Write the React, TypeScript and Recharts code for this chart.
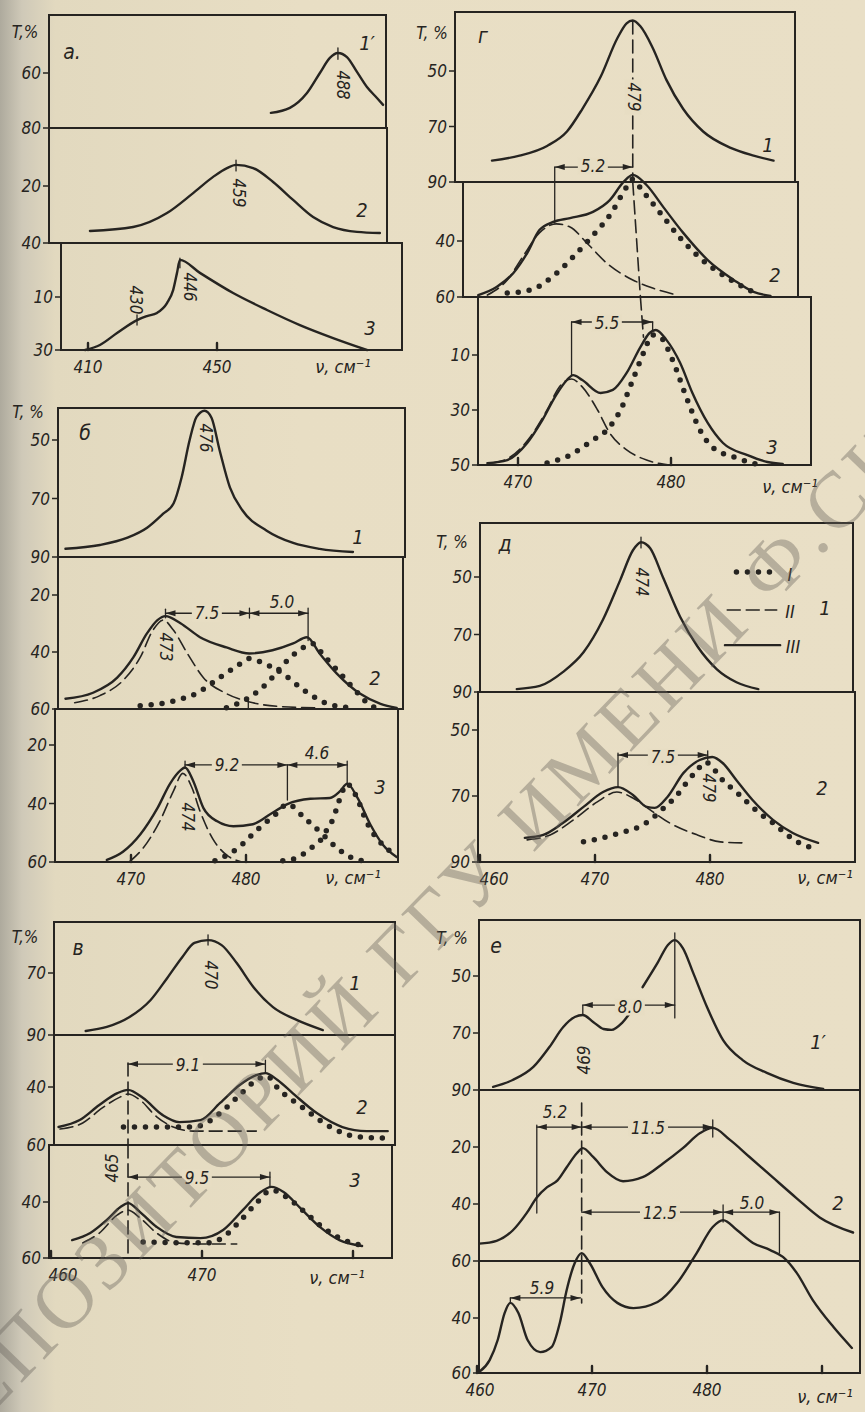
import {
    LineChart, Line, XAxis, YAxis, ReferenceArea, ReferenceLine, ReferenceDot,
} from 'recharts'

type P = [number, number]
type Kind = 'solid' | 'dash' | 'dot' | 'thin'

// ---- spectra: [ν, cm-1 ; T, %] ----

// а
const a1Solid: P[] = [[466.7, 74.5], [472.6, 72.7], [477.9, 67.3], [481.9, 60], [485.0, 54.5], [487.5, 52.7], [490.3, 54.2], [493.4, 59.6], [496.5, 65.1], [499.6, 69.1], [501.5, 71.6]]
const a2Solid: P[] = [[410.6, 35.8], [424.0, 34.4], [434.5, 29.5], [442.6, 22.5], [448.8, 16.8], [453.1, 13.7], [455.9, 12.6], [461.2, 13.7], [467.4, 18.6], [473.6, 24.9], [479.8, 30.9], [486.0, 34.4], [493.4, 36.1], [500.5, 36.5]]
const a3Solid: P[] = [[409.1, 30], [413.7, 28.1], [419.0, 23.6], [425.2, 18.7], [428.3, 17.2], [431.4, 16.0], [434.5, 12.3], [436.4, 7.4], [437.6, 0.9], [438.5, -4.0], [444.7, 0.9], [455.0, 8.5], [465.5, 14.9], [475.7, 20.6], [486.0, 25.5], [496.5, 30]]

// г
const g1Solid: P[] = [[468.3, 82.3], [470.1, 80.5], [471.9, 77.0], [473.2, 71.8], [474.2, 63.7], [475.4, 52.1], [476.5, 38.1], [477.1, 32.8], [477.5, 31.8], [478.0, 33.9], [478.8, 41.6], [479.7, 53.2], [480.8, 63.7], [482.1, 71.8], [483.9, 77.7], [485.4, 80.5], [486.7, 82.3]]
const g2Solid: P[] = [[467.4, 59.3], [468.6, 56.4], [469.7, 51.4], [470.6, 44.3], [471.4, 36.1], [472.3, 33.2], [473.4, 31.8], [474.9, 29.6], [476.0, 25.4], [476.9, 18.9], [477.5, 16.4], [478.4, 20.0], [479.5, 27.9], [480.8, 37.1], [482.4, 46.8], [484.1, 53.9], [485.4, 58.2], [486.5, 59.6]]
const g2Dash: P[] = [[468.0, 59.3], [469.3, 53.9], [470.3, 45.7], [471.4, 37.1], [472.5, 33.9], [473.4, 35.0], [474.5, 40.7], [475.8, 47.9], [477.5, 53.9], [478.8, 56.8], [480.4, 59.3]]
const g2Dot: P[] = [[469.3, 58.6], [470.8, 57.5], [472.4, 52.1], [473.6, 45.7], [474.8, 38.6], [476.1, 30.0], [477.1, 20.7], [477.5, 17.9], [478.1, 21.8], [479.3, 30.0], [480.6, 38.9], [481.9, 46.1], [483.7, 53.2], [485.5, 58.6]]
const g3Solid: P[] = [[468.0, 49.3], [469.3, 48.2], [470.6, 42.0], [471.6, 33.6], [472.5, 24.5], [473.2, 19.1], [473.6, 17.3], [474.2, 19.1], [475.4, 23.8], [476.2, 22.7], [477.1, 16.5], [478.0, 7.1], [478.6, 2.0], [479.0, 0.9], [479.7, 4.5], [480.6, 12.9], [481.4, 23.8], [482.4, 34.7], [483.4, 42.0], [485.0, 46.4], [486.3, 48.9], [487.3, 49.6]]
const g3Dash: P[] = [[468.3, 49.3], [469.5, 47.1], [470.8, 39.8], [471.9, 30.0], [472.7, 21.6], [473.5, 18.7], [474.2, 21.6], [475.2, 30.0], [476.0, 38.4], [477.1, 44.5], [478.4, 48.2], [479.9, 50]]
const g3Dot: P[] = [[471.9, 49.3], [473.4, 46.4], [474.9, 40.9], [475.8, 37.3], [476.7, 30.0], [477.5, 19.1], [478.2, 9.3], [478.8, 2.7], [479.3, 3.5], [480.1, 11.8], [481.0, 25.3], [481.9, 37.3], [482.7, 43.5], [484.1, 47.1], [485.8, 50]]

// б
const b1Solid: P[] = [[464.3, 87.2], [467.3, 85.9], [469.7, 83.4], [471.4, 80.0], [472.8, 75.2], [473.7, 71.7], [474.4, 62.8], [475.1, 50], [475.7, 42.1], [476.4, 40.0], [477.0, 42.4], [477.7, 53.4], [478.6, 66.2], [479.7, 74.1], [481.8, 81.0], [484.1, 85.2], [486.4, 87.2], [489.3, 88.3]]
const b2Solid: P[] = [[464.3, 56.4], [466.7, 54.3], [468.8, 49.0], [470.2, 41.9], [471.4, 33.4], [472.3, 28.8], [473.0, 27.4], [474.3, 29.9], [476.0, 34.8], [478.3, 38.4], [480.3, 40.5], [482.3, 39.4], [484.1, 37.0], [485.3, 34.8], [486.4, 40.5], [487.9, 47.6], [489.9, 54.6], [491.7, 58.2], [493.1, 59.6]]
const b2Dash: P[] = [[465.1, 57.8], [467.3, 55.3], [469.3, 50.0], [470.8, 41.9], [471.9, 32.4], [472.8, 28.8], [473.7, 32.4], [474.9, 40.5], [476.3, 49.0], [478.3, 54.6], [480.6, 57.8], [483.2, 59.2], [486.4, 59.6]]
const b2DotA: P[] = [[470.8, 58.9], [473.8, 57.1], [475.8, 54.3], [477.6, 49.3], [479.3, 44.7], [480.3, 42.3], [481.4, 43.7], [483.2, 47.6], [485.1, 53.6], [487.1, 58.2], [489.2, 59.6]]
const b2DotB: P[] = [[478.3, 59.6], [480.1, 56.4], [481.8, 51.1], [483.4, 43.7], [485.0, 38.4], [485.7, 37.0], [486.9, 41.9], [488.2, 47.6], [489.7, 54.3], [491.0, 59.2], [491.9, 59.8]]
const b3Solid: P[] = [[467.9, 59.3], [469.3, 56.5], [470.8, 50.6], [472.3, 41.6], [473.4, 33.2], [474.3, 28.7], [474.7, 27.7], [475.4, 32.2], [476.3, 41.6], [477.5, 46.1], [478.9, 47.8], [480.6, 47.1], [482.1, 43.7], [483.6, 40.2], [485.6, 38.4], [487.3, 38.1], [488.2, 35.7], [488.8, 33.2], [489.7, 38.1], [490.8, 47.1], [491.9, 54.1], [493.1, 58.3]]
const b3Dash: P[] = [[469.9, 59.8], [471.0, 55.5], [472.5, 46.1], [473.7, 35.7], [474.5, 29.7], [475.3, 34.6], [476.0, 42.6], [477.1, 52.0], [478.3, 57.6], [479.5, 59.8]]
const b3DotC: P[] = [[477.3, 59.6], [479.2, 55.5], [481.0, 48.9], [482.7, 43.3], [483.6, 40.2], [485.1, 45.0], [486.6, 50.3], [488.0, 55.5], [489.7, 59.3], [490.3, 59.6]]
const b3DotD: P[] = [[483.2, 59.6], [484.1, 59.0], [485.0, 57.2], [485.8, 54.8], [486.6, 52.0], [487.1, 48.5], [487.6, 45.0], [488.0, 40.2], [488.4, 35.7], [488.8, 33.2], [489.2, 35.0], [489.7, 38.4], [490.1, 42.6], [490.6, 47.1], [491.4, 52.0], [492.3, 55.5], [493.0, 58.3]]

// д
const d1Solid: P[] = [[463.2, 89.0], [465.2, 87.9], [467.2, 83.1], [469.0, 76.2], [470.7, 64.8], [472.2, 51.0], [473.3, 40.7], [474.0, 37.9], [474.8, 40.0], [475.9, 50], [477.4, 63.8], [478.9, 74.1], [480.6, 82.1], [482.3, 86.6], [484.2, 89.0]]
const d2Solid: P[] = [[463.9, 82.7], [465.5, 81.8], [467.2, 78.2], [469.0, 73.3], [470.7, 68.8], [472.0, 67.3], [473.3, 69.7], [474.5, 73.3], [475.2, 73.6], [476.3, 70.3], [477.7, 63.0], [479.1, 59.1], [480.2, 58.2], [481.1, 60.0], [482.3, 65.2], [483.7, 71.2], [485.5, 77.3], [487.2, 81.2], [489.4, 84.2]]
const d2Dash: P[] = [[464.1, 83.3], [466.1, 81.8], [468.1, 77.3], [470.2, 71.8], [471.9, 68.8], [473.3, 70.6], [474.8, 74.2], [476.5, 78.2], [478.9, 81.8], [480.9, 83.9], [482.8, 84.2]]
const d2Dot: P[] = [[469.0, 83.9], [470.3, 83.0], [471.6, 81.8], [472.8, 80.6], [473.8, 79.4], [474.8, 77.3], [475.8, 74.2], [477.0, 70.3], [478.0, 65.8], [478.9, 62.1], [479.6, 59.7], [480.4, 62.1], [481.1, 65.2], [482.3, 68.8], [483.3, 72.1], [484.3, 75.2], [485.5, 78.2], [486.5, 81.2], [487.6, 83.9], [488.7, 85.5]]

// в
const v1Solid: P[] = [[462.3, 88.7], [463.7, 87.4], [465.2, 84.2], [466.6, 78.7], [467.7, 71.6], [468.7, 64.8], [469.5, 60.3], [470.4, 59.4], [471.3, 61.0], [472.3, 66.8], [473.4, 74.5], [474.7, 81.0], [476.3, 85.2], [478.0, 88.4]]
const v2Solid: P[] = [[460.5, 53.8], [461.9, 51.4], [463.2, 46.2], [464.4, 42.1], [465.1, 41.0], [466.1, 43.8], [467.4, 49.7], [468.5, 52.1], [469.9, 51.4], [471.2, 45.5], [472.5, 39.3], [473.6, 35.9], [474.2, 35.2], [475.0, 37.6], [476.0, 42.1], [477.6, 49.0], [479.3, 53.8], [480.9, 55.2], [482.3, 55.2]]
const v2Dash: P[] = [[460.6, 54.5], [462.1, 52.4], [463.4, 47.2], [464.6, 43.4], [465.1, 42.4], [465.9, 44.5], [467.0, 50.3], [468.1, 53.8], [469.4, 55.2], [472.1, 55.2], [473.6, 55.2]]
const v2Dot: P[] = [[464.8, 53.8], [469.4, 53.8], [470.3, 52.4], [471.2, 49.0], [472.7, 41.7], [473.6, 37.6], [474.3, 36.2], [475.0, 40.3], [476.7, 47.2], [478.5, 53.8], [480.3, 57.2], [482.1, 57.6]]
const v3Solid: P[] = [[461.4, 53.6], [462.6, 51.1], [463.7, 46.4], [464.6, 41.8], [465.1, 40.4], [465.9, 43.6], [467.0, 48.9], [468.3, 52.5], [469.9, 52.9], [471.4, 50.0], [472.7, 42.9], [473.8, 36.8], [474.6, 34.6], [475.4, 36.4], [476.5, 42.1], [477.8, 48.9], [479.1, 53.6], [480.6, 55.7]]
const v3Dash: P[] = [[462.1, 54.6], [463.2, 51.1], [464.4, 44.6], [465.1, 42.9], [465.9, 45.7], [467.0, 51.1], [468.3, 54.6], [469.9, 55.0], [472.3, 55.0]]
const v3Dot: P[] = [[466.1, 54.3], [470.4, 54.6], [471.3, 52.9], [472.4, 47.5], [473.6, 40.4], [474.6, 35.7], [475.7, 38.6], [476.8, 43.6], [477.8, 48.2], [479.1, 52.9], [480.5, 55.4]]

// е
const e1SolidA: P[] = [[461.4, 88.9], [463.1, 86.5], [464.9, 81.9], [466.3, 74.9], [467.5, 67.9], [468.5, 64.4], [469.2, 63.7], [470.1, 66.1], [471.0, 68.6], [471.7, 68.9], [472.6, 66.5], [473.3, 63.0]]
const e1SolidB: P[] = [[474.4, 53.9], [475.7, 45.4], [476.6, 39.1], [477.2, 37.4], [477.9, 40.2], [478.8, 48.9], [480.0, 60.9], [481.4, 72.5], [483.1, 79.5], [485.2, 84.0], [487.5, 87.5], [490.1, 89.6]]
const e2Solid: P[] = [[460.2, 53.9], [461.7, 52.9], [463.1, 49.3], [464.3, 43.3], [465.2, 37.7], [466.1, 34.1], [467.0, 31.7], [467.8, 27.1], [468.7, 22.1], [469.2, 20.4], [470.1, 23.5], [471.3, 28.8], [472.7, 32.0], [474.4, 30.6], [476.2, 25.7], [477.9, 20.4], [479.4, 15.1], [480.5, 13.3], [482.0, 17.5], [483.7, 23.5], [485.7, 30.6], [487.8, 38.0], [489.8, 44.7], [492.7, 50.0]]
const e3Solid: P[] = [[460.2, 59.6], [461.1, 55.3], [461.8, 48.0], [462.4, 38.2], [462.9, 34.5], [463.6, 38.2], [464.4, 48.0], [465.5, 52.4], [466.5, 50.5], [467.2, 41.8], [467.8, 29.8], [468.5, 20.0], [469.1, 16.4], [469.8, 20.0], [470.9, 28.7], [472.2, 34.5], [473.6, 36.4], [475.7, 34.2], [477.4, 27.3], [479.1, 16.4], [480.5, 6.9], [481.4, 4.4], [482.6, 8.0], [484.0, 12.7], [485.5, 15.3], [486.6, 17.8], [487.8, 23.6], [489.2, 33.5], [491.0, 43.3], [492.6, 50.9]]

// ---- look ----
const INK = '#262421'
const PAPER = '#e7ddc3'
const FONT = "'DejaVu Sans Condensed', 'Liberation Sans Narrow', 'DejaVu Sans', sans-serif"
const TICK = { fill: INK, fontSize: 17, fontStyle: 'italic', fontFamily: FONT }
const YW = 42
const MT = 4
const MR = 20
const MB = 14
const EXT_T = 60 // plot area reaches above the frame so peaks/annotations may cross it
const EXT_B = 6

const LINE_STYLE: Record<Kind, Record<string, string | number>> = {
    solid: { strokeWidth: 2.4 },
    thin: { strokeWidth: 1.3 },
    dash: { strokeWidth: 1.6, strokeDasharray: '13 6' },
    dot: { strokeWidth: 5.5, strokeDasharray: '0 11', strokeLinecap: 'round' },
}

type Mark =
    | { k: 'seg'; a: P; b: P; st: Kind }
    | { k: 'arr'; at: P; dir: 1 | -1 }

const seg = (x1: number, y1: number, x2: number, y2: number, st: Kind = 'thin'): Mark =>
    ({ k: 'seg', a: [x1, y1], b: [x2, y2], st })
const arr = (x: number, y: number, dir: 1 | -1): Mark => ({ k: 'arr', at: [x, y], dir })

interface StripCfg {
    frame: [number, number, number, number]
    ty: [number, number, number, number]
    yTicks: number[]
    curves: [P[], Kind][]
    marks?: Mark[]
    xTicks?: number[]
    blank?: number[]
    nudge?: Record<number, number>
}

interface PanelCfg {
    xCal: [number, number, number]
    strips: StripCfg[]
}

const PANELS: PanelCfg[] = [
    {   // а
        xCal: [410, 88, 3.225],
        strips: [
            { frame: [49, 15, 386, 128], ty: [60, 73, 80, 128], yTicks: [60, 80],
                curves: [[a1Solid, 'solid']], marks: [seg(487.5, 50.9, 487.5, 55)] },
            { frame: [49, 128, 387, 243], ty: [20, 186, 40, 243], yTicks: [20, 40],
                curves: [[a2Solid, 'solid']], marks: [seg(455.9, 10.9, 455.9, 14.7)] },
            { frame: [61, 243, 402, 350], ty: [10, 297, 30, 350], yTicks: [10, 30], xTicks: [410, 450],
                curves: [[a3Solid, 'solid']],
                marks: [seg(438.5, -4.7, 438.5, -1), seg(425.2, 16.8, 425.2, 20.6)] },
        ],
    },
    {   // г
        xCal: [470, 518, 15.3],
        strips: [
            { frame: [455, 12, 795, 182], ty: [50, 71, 90, 182], yTicks: [50, 70, 90],
                curves: [[g1Solid, 'solid']], marks: [seg(477.5, 32, 477.5, 90, 'dash')] },
            { frame: [463, 182, 798, 297], ty: [40, 241, 60, 297], yTicks: [40, 60],
                curves: [[g2Solid, 'solid'], [g2Dash, 'dash'], [g2Dot, 'dot']],
                marks: [
                    seg(477.5, 18.9, 478.0, 60, 'dash'),
                    seg(472.4, 13.6, 472.4, 33.6), seg(472.4, 13.6, 477.5, 13.6),
                    arr(472.4, 13.6, -1), arr(477.5, 13.6, 1),
                ] },
            { frame: [478, 297, 811, 465], ty: [10, 355, 50, 465], yTicks: [10, 30, 50], xTicks: [470, 480],
                curves: [[g3Solid, 'solid'], [g3Dash, 'dash'], [g3Dot, 'dot']],
                marks: [
                    seg(478.0, -11.1, 478.2, 3.5, 'dash'),
                    seg(473.5, -2, 473.5, 17.3), seg(473.5, -2, 478.8, -2), seg(478.8, -2, 478.8, 1),
                    arr(473.5, -2, -1), arr(478.8, -2, 1),
                ] },
        ],
    },
    {   // б
        xCal: [470, 131, 11.5],
        strips: [
            { frame: [58, 408, 405, 557], ty: [50, 440, 90, 557], yTicks: [50, 70, 90],
                curves: [[b1Solid, 'solid']] },
            { frame: [58, 557, 403, 709], ty: [20, 595, 60, 709], yTicks: [20, 40, 60],
                curves: [[b2Solid, 'solid'], [b2Dash, 'dash'], [b2DotA, 'dot'], [b2DotB, 'dot']],
                marks: [
                    seg(473.0, 26.4, 485.4, 26.4), seg(473.0, 25, 473.0, 28), seg(480.3, 24.6, 480.3, 28.1),
                    seg(485.4, 24.6, 485.4, 36), seg(480.2, 57, 480.2, 60),
                    arr(473.0, 26.4, -1), arr(480.3, 26.4, 1), arr(480.3, 26.4, -1), arr(485.4, 26.4, 1),
                ] },
            { frame: [55, 709, 398, 862], ty: [20, 745, 60, 862], yTicks: [20, 40, 60], xTicks: [470, 480],
                curves: [[b3Solid, 'solid'], [b3Dash, 'dash'], [b3DotC, 'dot'], [b3DotD, 'dot']],
                marks: [
                    seg(474.7, 26.8, 488.8, 26.8), seg(474.7, 25.5, 474.7, 28),
                    seg(483.6, 26.8, 483.6, 38.8), seg(488.8, 25.5, 488.8, 33),
                    arr(474.7, 26.8, -1), arr(483.6, 26.8, 1), arr(483.6, 26.8, -1), arr(488.8, 26.8, 1),
                ] },
        ],
    },
    {   // д
        xCal: [470, 595, 11.5],
        strips: [
            { frame: [480, 523, 853, 692], ty: [50, 577, 90, 692], yTicks: [50, 70, 90],
                curves: [[d1Solid, 'solid']],
                marks: [
                    seg(474.0, 36.1, 474.0, 39.9),
                    seg(482.3, 48.3, 485.2, 48.3, 'dot'),
                    seg(481.5, 61.5, 485.8, 61.5, 'dash'),
                    seg(481.3, 73.7, 486.1, 73.7, 'solid'),
                ] },
            { frame: [478, 692, 855, 862], ty: [50, 730, 90, 862], yTicks: [50, 70, 90], xTicks: [460, 470, 480],
                nudge: { 460: 14 },
                curves: [[d2Solid, 'solid'], [d2Dash, 'dash'], [d2Dot, 'dot']],
                marks: [
                    seg(472.0, 57.0, 472.0, 67.3), seg(472.0, 57.6, 479.8, 57.6), seg(479.8, 56.3, 479.8, 59),
                    arr(472.0, 57.6, -1), arr(479.8, 57.6, 1),
                ] },
        ],
    },
    {   // в
        xCal: [470, 202, 15.1],
        strips: [
            { frame: [54, 922, 395, 1035], ty: [70, 973, 90, 1035], yTicks: [70, 90],
                curves: [[v1Solid, 'solid']], marks: [seg(470.4, 57.7, 470.4, 61.0)] },
            { frame: [54, 1035, 395, 1145], ty: [40, 1087, 60, 1145], yTicks: [40, 60],
                curves: [[v2Solid, 'solid'], [v2Dash, 'dash'], [v2Dot, 'dot']],
                marks: [
                    seg(465.1, 31.7, 465.1, 60, 'dash'),
                    seg(465.1, 32.1, 474.2, 32.1), seg(474.2, 30.7, 474.2, 35.2),
                    arr(465.1, 32.1, -1), arr(474.2, 32.1, 1),
                ] },
            { frame: [49, 1145, 392, 1258], ty: [40, 1202, 60, 1258], yTicks: [40, 60], xTicks: [460, 470, 480],
                blank: [480], nudge: { 460: 12 },
                curves: [[v3Solid, 'solid'], [v3Dash, 'dash'], [v3Dot, 'dot']],
                marks: [
                    seg(465.1, 19.6, 465.1, 59.6, 'dash'),
                    seg(465.1, 31.1, 474.5, 31.1), seg(474.5, 29.3, 474.5, 34.6),
                    arr(465.1, 31.1, -1), arr(474.5, 31.1, 1),
                ] },
        ],
    },
    {   // е
        xCal: [470, 592, 11.5],
        strips: [
            { frame: [479, 920, 860, 1090], ty: [50, 976, 90, 1090], yTicks: [50, 70, 90],
                curves: [[e1SolidA, 'solid'], [e1SolidB, 'solid']],
                marks: [
                    seg(477.2, 34.9, 477.2, 64.7), seg(469.2, 60.2, 477.2, 60.2), seg(469.2, 60.2, 469.2, 63.7),
                    arr(469.2, 60.2, -1), arr(477.2, 60.2, 1),
                ] },
            { frame: [479, 1090, 860, 1261], ty: [20, 1147, 60, 1261], yTicks: [20, 40, 60],
                curves: [[e2Solid, 'solid']],
                marks: [
                    seg(469.1, 4.6, 469.1, 60, 'dash'),
                    seg(465.2, 12.3, 465.2, 43.2), seg(465.2, 13.0, 480.5, 13.0), seg(480.5, 10.5, 480.5, 16.5),
                    arr(465.2, 13.0, -1), arr(469.1, 13.0, 1), arr(469.1, 13.0, -1), arr(480.5, 13.0, 1),
                ] },
            { frame: [479, 1261, 860, 1373], ty: [40, 1318, 60, 1373], yTicks: [40, 60], xTicks: [460, 470, 480, 490],
                blank: [490], nudge: { 460: 3 },
                curves: [[e3Solid, 'solid']],
                marks: [
                    seg(469.1, 19.3, 469.1, 34.5, 'dash'),
                    seg(469.1, 1.5, 486.3, 1.5), seg(481.4, -1.1, 481.4, 5.1), seg(486.3, 1.5, 486.3, 16.4),
                    arr(469.1, 1.5, -1), arr(481.4, 1.5, 1), arr(481.4, 1.5, -1), arr(486.3, 1.5, 1),
                    seg(462.9, 32.7, 469.0, 32.7), seg(462.9, 32.7, 462.9, 34.5),
                    arr(462.9, 32.7, -1), arr(469.0, 32.7, 1),
                ] },
        ],
    },
]

interface Lbl { x: number; y: number; s: string; r?: number; fs?: number; bg?: boolean }

const LABELS: Lbl[] = [
    // а
    { x: 25, y: 32, s: 'T,%' }, { x: 72, y: 52, s: 'а.', fs: 21 },
    { x: 367, y: 43, s: '1′', fs: 20 }, { x: 342, y: 85, s: '488', r: 90 },
    { x: 238, y: 193, s: '459', r: 90 }, { x: 362, y: 210, s: '2', fs: 20 },
    { x: 135, y: 300, s: '430', r: 90 }, { x: 189, y: 287, s: '446', r: 90 },
    { x: 370, y: 328, s: '3', fs: 20 }, { x: 343, y: 367, s: 'ν, см⁻¹', fs: 18 },
    // г
    { x: 432, y: 33, s: 'T, %' }, { x: 483, y: 36, s: 'г', fs: 21 },
    { x: 768, y: 145, s: '1', fs: 20 }, { x: 633, y: 97, s: '479', r: 90, bg: true },
    { x: 593, y: 166, s: '5.2', bg: true }, { x: 775, y: 275, s: '2', fs: 20 },
    { x: 607, y: 323, s: '5.5', bg: true }, { x: 772, y: 447, s: '3', fs: 20 },
    { x: 790, y: 487, s: 'ν, см⁻¹', fs: 18 },
    // б
    { x: 28, y: 412, s: 'T, %' }, { x: 85, y: 433, s: 'б', fs: 21 },
    { x: 205, y: 438, s: '476', r: 90 }, { x: 358, y: 537, s: '1', fs: 20 },
    { x: 207, y: 613, s: '7.5', bg: true }, { x: 282, y: 602, s: '5.0' },
    { x: 165, y: 647, s: '473', r: 90 }, { x: 375, y: 678, s: '2', fs: 20 },
    { x: 227, y: 765, s: '9.2', bg: true }, { x: 317, y: 753, s: '4.6' },
    { x: 187, y: 817, s: '474', r: 90 }, { x: 380, y: 787, s: '3', fs: 20 },
    { x: 353, y: 878, s: 'ν, см⁻¹', fs: 18 },
    // д
    { x: 452, y: 542, s: 'T, %' }, { x: 505, y: 544, s: 'д', fs: 21 },
    { x: 641, y: 582, s: '474', r: 90 },
    { x: 790, y: 575, s: 'I', fs: 18 }, { x: 790, y: 612, s: 'II', fs: 18 }, { x: 793, y: 647, s: 'III', fs: 18 },
    { x: 825, y: 608, s: '1', fs: 20 }, { x: 663, y: 757, s: '7.5', bg: true },
    { x: 708, y: 788, s: '479', r: 90 }, { x: 822, y: 788, s: '2', fs: 20 },
    { x: 825, y: 878, s: 'ν, см⁻¹', fs: 18 },
    // в
    { x: 25, y: 937, s: 'T,%' }, { x: 78, y: 948, s: 'в', fs: 21 },
    { x: 210, y: 975, s: '470', r: 90 }, { x: 355, y: 983, s: '1', fs: 20 },
    { x: 188, y: 1065, s: '9.1', bg: true }, { x: 362, y: 1107, s: '2', fs: 20 },
    { x: 112, y: 1168, s: '465', r: -90 }, { x: 197, y: 1178, s: '9.5', bg: true },
    { x: 355, y: 1180, s: '3', fs: 20 }, { x: 337, y: 1278, s: 'ν, см⁻¹', fs: 18 },
    // е
    { x: 452, y: 938, s: 'T, %' }, { x: 496, y: 946, s: 'е', fs: 21 },
    { x: 630, y: 1007, s: '8.0', bg: true }, { x: 584, y: 1060, s: '469', r: -90 },
    { x: 818, y: 1042, s: '1′', fs: 20 }, { x: 555, y: 1112, s: '5.2' },
    { x: 648, y: 1128, s: '11.5', bg: true }, { x: 838, y: 1203, s: '2', fs: 20 },
    { x: 660, y: 1213, s: '12.5', bg: true }, { x: 752, y: 1203, s: '5.0' },
    { x: 542, y: 1288, s: '5.9' }, { x: 825, y: 1397, s: 'ν, см⁻¹', fs: 18 },
]

function Strip({ s, xCal }: { s: StripCfg; xCal: [number, number, number] }) {
    const [L, T, R, B] = s.frame
    const [v0, p0, ppx] = xCal
    const xd: [number, number] = [v0 + (L - p0) / ppx, v0 + (R - p0) / ppx]
    const [ta, pa, tb, pb] = s.ty
    const k = (pb - pa) / (tb - ta)
    const tAt = (py: number) => ta + (py - pa) / k
    const yd: [number, number] = [tAt(T - EXT_T), tAt(B + EXT_B)]
    const fy: [number, number] = [tAt(T), tAt(B)]
    const xh = s.xTicks ? 28 : 0
    const w = YW + (R - L) + MR
    const h = MT + (B - T + EXT_T + EXT_B) + xh + MB
    const blank = s.blank || []
    const nudge = s.nudge || {}
    // short inward ticks on the ν axis
    const inward = (s.xTicks || []).map((v) => seg(v, fy[1], v, fy[1] - 7 / k, 'solid'))
    const marks = [...(s.marks || []), ...inward]

    const xTick = (p: { x: number; y: number; payload: { value: number } }) => (
        <text x={p.x + (nudge[p.payload.value] || 0)} y={p.y} dy="0.8em" textAnchor="middle"
            fill={INK} fontSize={17} fontStyle="italic" fontFamily={FONT}>
            {blank.includes(p.payload.value) ? '' : p.payload.value}
        </text>
    )

    return (
        <div style={{ position: 'absolute', left: L - YW, top: T - EXT_T - MT }}>
            <LineChart width={w} height={h} margin={{ top: MT, right: MR, bottom: MB, left: 0 }}>
                <XAxis type="number" dataKey="x" domain={xd} allowDataOverflow hide={!s.xTicks}
                    ticks={s.xTicks} interval={0} height={xh} axisLine={false} tickLine={false}
                    tickSize={0} tickMargin={3} tick={xTick} />
                <YAxis type="number" domain={yd} reversed allowDataOverflow ticks={s.yTicks} interval={0}
                    width={YW} axisLine={false} tickSize={6} tickMargin={2}
                    tickLine={{ stroke: INK, strokeWidth: 1.5 }} tick={TICK} />
                <ReferenceArea x1={xd[0]} x2={xd[1]} y1={fy[0]} y2={fy[1]} ifOverflow="visible"
                    fill="none" fillOpacity={0} stroke={INK} strokeWidth={2} />
                {s.curves.map(([pts, kind], i) => (
                    <Line key={i} data={pts.map(([x, y]) => ({ x, y }))} dataKey="y" type="monotone"
                        stroke={INK} dot={false} activeDot={false} isAnimationActive={false}
                        strokeLinecap="round" {...LINE_STYLE[kind]} />
                ))}
                {marks.map((m, i) => m.k === 'seg' ? (
                    <ReferenceLine key={'m' + i} ifOverflow="visible" stroke={INK} strokeLinecap="round"
                        segment={[{ x: m.a[0], y: m.a[1] }, { x: m.b[0], y: m.b[1] }]}
                        {...LINE_STYLE[m.st]} />
                ) : (
                    <ReferenceDot key={'m' + i} x={m.at[0]} y={m.at[1]} r={1} ifOverflow="visible"
                        shape={(p: { cx: number; cy: number }) => (
                            <path d={`M${p.cx},${p.cy} l${-10 * m.dir},-3 l0,6 z`} fill={INK} />
                        )} />
                ))}
            </LineChart>
        </div>
    )
}

export default function App() {
    return (
        <div style={{
            position: 'absolute', left: 0, top: 0, width: 865, height: 1412, overflow: 'hidden',
            background: 'linear-gradient(90deg, #aeaa9d 0px, #cfc9b8 22px, #e2d9bf 55px, #e8dec4 300px, #e9dfc6 100%)',
        }}>
            {PANELS.map((p, i) => p.strips.map((s, j) => <Strip key={i + '-' + j} s={s} xCal={p.xCal} />))}
            {LABELS.map((l, i) => (
                <div key={i} style={{
                    position: 'absolute', left: l.x, top: l.y, whiteSpace: 'nowrap', lineHeight: 1,
                    transform: `translate(-50%, -50%) rotate(${l.r || 0}deg)`,
                    fontSize: l.fs || 17, fontStyle: 'italic', fontFamily: FONT, color: INK,
                    background: l.bg ? PAPER : undefined, padding: l.bg ? '0 3px' : undefined,
                }}>{l.s}</div>
            ))}
            <div style={{
                position: 'absolute', left: -71, top: 1400, transformOrigin: '0 50%', transform: 'rotate(-46deg)',
                fontFamily: "'Liberation Serif', 'DejaVu Serif', serif", fontSize: 80, lineHeight: '80px',
                letterSpacing: 5, color: 'rgba(105, 100, 92, 0.4)', whiteSpace: 'nowrap', pointerEvents: 'none',
            }}>РЕПОЗИТОРИЙ ГГУ ИМЕНИ Ф.СКОРИНЫ</div>
        </div>
    )
}
